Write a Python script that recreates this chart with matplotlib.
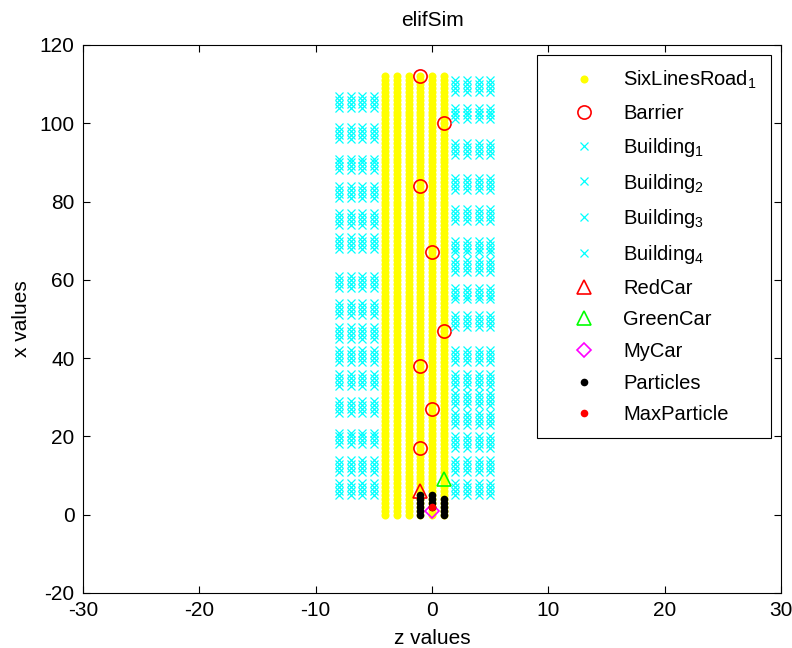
import numpy as np
import matplotlib
matplotlib.use("Agg")
import matplotlib.pyplot as plt

plt.rcParams['font.family'] = ['Liberation Sans', 'DejaVu Sans']
plt.rcParams['mathtext.default'] = 'regular'
plt.rcParams['axes.unicode_minus'] = False

# Road: six lanes along x at fixed z positions
road_lanes_z = [-4, -3, -2, -1, 0, 1]
road_x_start, road_x_end = 0, 112

# Barriers (z, x)
barrier_z = [-1, 1, -1, 0, 1, -1, 0, -1]
barrier_x = [112, 100, 84, 67, 47, 38, 27, 17]

# Buildings: columns in z and x-ranges (start, end) of each block
left_cols_z = [-8, -7, -6, -5]
right_cols_z = [2, 3, 4, 5]
building1_blocks = [(104, 107), (96, 99), (88, 91), (81, 84), (74, 77), (68, 71)]
building2_blocks = [(58, 61), (51, 54), (45, 48), (39, 42), (33, 36), (26, 29),
                    (18, 21), (11, 14), (5, 8)]
building3_blocks = [(108, 111), (101, 104), (92, 95), (83, 86), (75, 78), (67, 70),
                    (62, 65)]
building4_blocks = [(55, 58), (48, 51), (39, 42), (33, 36), (28, 31), (23, 26),
                    (17, 20), (11, 14), (5, 8)]

# Cars (z, x)
red_car = (-1, 6)
green_car = (1, 9)
my_car = (0, 1)

# Particle cloud: per-column z and x-values
particle_cols_z = [-1, 0, 1]
particle_cols_x = [[0, 1, 2, 3, 4, 5], [2, 3, 4, 5], [0, 1, 2, 3, 4]]
max_particle = (0, 2)


def block_points(cols, blocks):
    zs, xs = [], []
    for z in cols:
        for a, b in blocks:
            for x in range(a, b + 1):
                zs.append(z)
                xs.append(x)
    return zs, xs


W, H = 792, 648
fig = plt.figure(figsize=(W / 100, H / 100), dpi=100)
ax = fig.add_axes([83 / W, 1 - 593 / H, (781 - 83) / W, (593 - 45) / H])

# road lanes
rz, rx = [], []
for z in road_lanes_z:
    for x in range(road_x_start, road_x_end + 1):
        rz.append(z)
        rx.append(x)
ax.plot(rz, rx, linestyle='none', marker='o', markersize=5.8, color=(1, 1, 0),
        markeredgewidth=0, label='SixLinesRoad$_1$')

ax.plot(barrier_z, barrier_x, linestyle='none', marker='o', markersize=9.5,
        markerfacecolor='none', markeredgecolor=(1, 0, 0), markeredgewidth=1.2,
        label='Barrier')

for i, (cols, blocks) in enumerate([(left_cols_z, building1_blocks),
                                    (left_cols_z, building2_blocks),
                                    (right_cols_z, building3_blocks),
                                    (right_cols_z, building4_blocks)], start=1):
    bz, bx = block_points(cols, blocks)
    ax.plot(bz, bx, linestyle='none', marker='x', markersize=6,
            color=(0, 1, 1), markeredgewidth=0.9, label=f'Building$_{i}$')

ax.plot([red_car[0]], [red_car[1]], linestyle='none', marker='^', markersize=10.5,
        markerfacecolor='none', markeredgecolor=(1, 0, 0), markeredgewidth=1.2,
        label='RedCar')
ax.plot([green_car[0]], [green_car[1]], linestyle='none', marker='^', markersize=10.5,
        markerfacecolor='none', markeredgecolor=(0, 1, 0), markeredgewidth=1.2,
        label='GreenCar')
ax.plot([my_car[0]], [my_car[1]], linestyle='none', marker='D', markersize=7.5,
        markerfacecolor='none', markeredgecolor=(1, 0, 1), markeredgewidth=1.2,
        label='MyCar')

pz, px = [], []
for z, xs in zip(particle_cols_z, particle_cols_x):
    for x in xs:
        pz.append(z)
        px.append(x)
ax.plot(pz, px, linestyle='none', marker='o', markersize=5.5, color='black',
        markeredgewidth=0, label='Particles')
ax.plot([max_particle[0]], [max_particle[1]], linestyle='none', marker='o',
        markersize=5.5, color=(1, 0, 0), markeredgewidth=0, label='MaxParticle')

ax.set_xlim(-30, 30)
ax.set_ylim(-20, 120)
ax.set_xticks(np.arange(-30, 31, 10))
ax.set_yticks(np.arange(-20, 121, 20))
ax.tick_params(direction='in', length=5, width=0.8, top=True, right=True,
               labelsize=15, pad=6)
for s in ax.spines.values():
    s.set_linewidth(0.8)

ax.set_title('elifSim', fontsize=15, pad=14)
ax.set_xlabel('z values', fontsize=15, labelpad=6)
ax.set_ylabel('x values', fontsize=15, labelpad=6)

leg = ax.legend(loc='upper right', fontsize=14.5, frameon=True, fancybox=False,
                edgecolor='black', framealpha=1, borderpad=0.7, labelspacing=0.63,
                handlelength=3.3, handletextpad=0.3, borderaxespad=0.5,
                numpoints=1)
leg.get_frame().set_linewidth(0.8)

fig.savefig('out.png', dpi=100)
